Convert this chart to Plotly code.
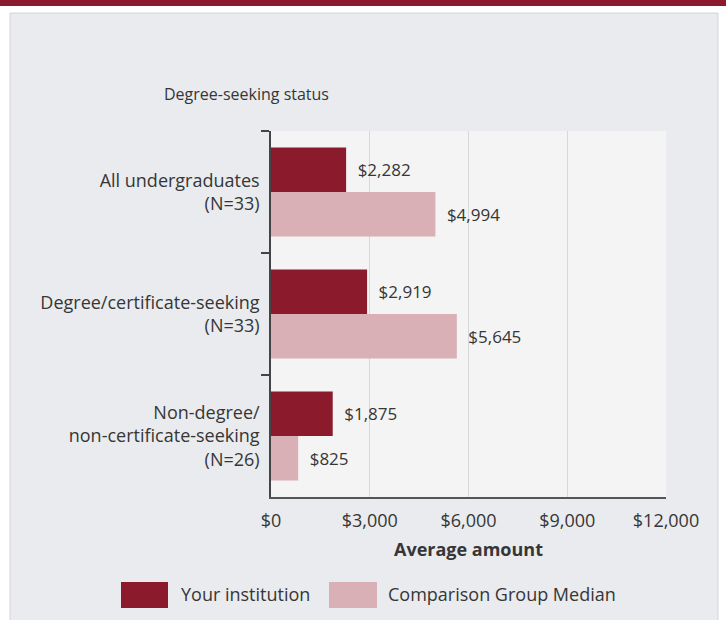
import plotly.graph_objects as go

categories = [
    "All undergraduates<br>(N=33)",
    "Degree/certificate-seeking<br>(N=33)",
    "Non-degree/<br>non-certificate-seeking<br>(N=26)",
]
series_names = ["Your institution", "Comparison Group Median"]
your_institution = [2282, 2919, 1875]
comparison_median = [4994, 5645, 825]
x_ticks = [0, 3000, 6000, 9000, 12000]

DARK = "#8a1a2c"
LIGHT = "#d8b0b6"
TEXT = "#363636"
FONT = "Open Sans, Arial, sans-serif"

fig = go.Figure()
for name, vals, color in [(series_names[0], your_institution, DARK),
                          (series_names[1], comparison_median, LIGHT)]:
    fig.add_trace(go.Bar(
        y=categories, x=vals, name=name, orientation="h",
        marker=dict(color=color, line=dict(width=0)),
        texttemplate="\u2002%{x:$,.0f}", textposition="outside",
        textfont=dict(size=17, color=TEXT), cliponaxis=False,
        showlegend=False,
    ))

# plot area pixel box: x 271..666, y 131..497 (figure 726x620)
def px_x(p):
    return (p - 271) / 395


def px_y(p):
    return (497 - p) / 366


shapes = [
    # white page edges around the gray panel, plus the maroon band on top
    dict(type="rect", xref="paper", yref="paper", x0=-1, x1=px_x(10), y0=-1, y1=2,
         fillcolor="white", line_width=0, layer="above"),
    dict(type="rect", xref="paper", yref="paper", x0=px_x(718), x1=2, y0=-1, y1=2,
         fillcolor="white", line_width=0, layer="above"),
    dict(type="rect", xref="paper", yref="paper", x0=-1, x1=2, y0=px_y(13), y1=2,
         fillcolor="white", line_width=0, layer="above"),
    dict(type="rect", xref="paper", yref="paper", x0=-1, x1=2, y0=px_y(6), y1=2,
         fillcolor=DARK, line_width=0, layer="above"),
    dict(type="rect", xref="paper", yref="paper", x0=px_x(10), x1=px_x(718),
         y0=px_y(640), y1=px_y(13), line=dict(color="#d2d4d6", width=1), layer="above"),
    # legend swatches
    dict(type="rect", xref="paper", yref="paper", x0=px_x(121), x1=px_x(168),
         y0=px_y(608), y1=px_y(582), fillcolor=DARK, line_width=0),
    dict(type="rect", xref="paper", yref="paper", x0=px_x(329), x1=px_x(377),
         y0=px_y(608), y1=px_y(582), fillcolor=LIGHT, line_width=0),
]

annotations = [
    dict(text=series_names[0], xref="paper", yref="paper", x=px_x(179), y=px_y(594),
         xanchor="left", yanchor="middle", showarrow=False, font=dict(size=18, color=TEXT)),
    dict(text=series_names[1], xref="paper", yref="paper", x=px_x(386), y=px_y(594),
         xanchor="left", yanchor="middle", showarrow=False, font=dict(size=18, color=TEXT)),
]

fig.update_layout(
    width=726, height=620,
    margin=dict(l=271, r=60, t=131, b=123),
    paper_bgcolor="#e9ebee", plot_bgcolor="#f4f4f4",
    font=dict(family=FONT, size=18, color=TEXT),
    title=dict(text="Degree-seeking status", x=164 / 726, xanchor="left",
               y=1 - 94 / 620, yanchor="middle", font=dict(size=16, color=TEXT)),
    barmode="group", bargap=0.27, bargroupgap=0.0,
    shapes=shapes, annotations=annotations,
)
fig.update_xaxes(
    range=[0, 12000], tickvals=x_ticks, tickformat="$,.0f",
    showgrid=True, gridcolor="#d8d8d8", zeroline=False,
    showline=True, linecolor="#555555", linewidth=1.5, ticks="",
    ticklabelstandoff=7, tickfont=dict(size=18, color=TEXT),
    title=dict(text="<b>Average amount</b>", standoff=12, font=dict(size=18, color=TEXT)),
)
fig.update_yaxes(
    autorange="reversed", showgrid=False,
    showline=True, linecolor="#444444", linewidth=1.5,
    ticks="outside", ticklen=8, tickcolor="#444444", tickwidth=1.5,
    tickson="boundaries", ticklabelstandoff=6,
    tickfont=dict(size=18, color=TEXT),
)

fig.write_html("out.html", config={"displayModeBar": False},
               post_script="document.body.style.margin = '0';")
